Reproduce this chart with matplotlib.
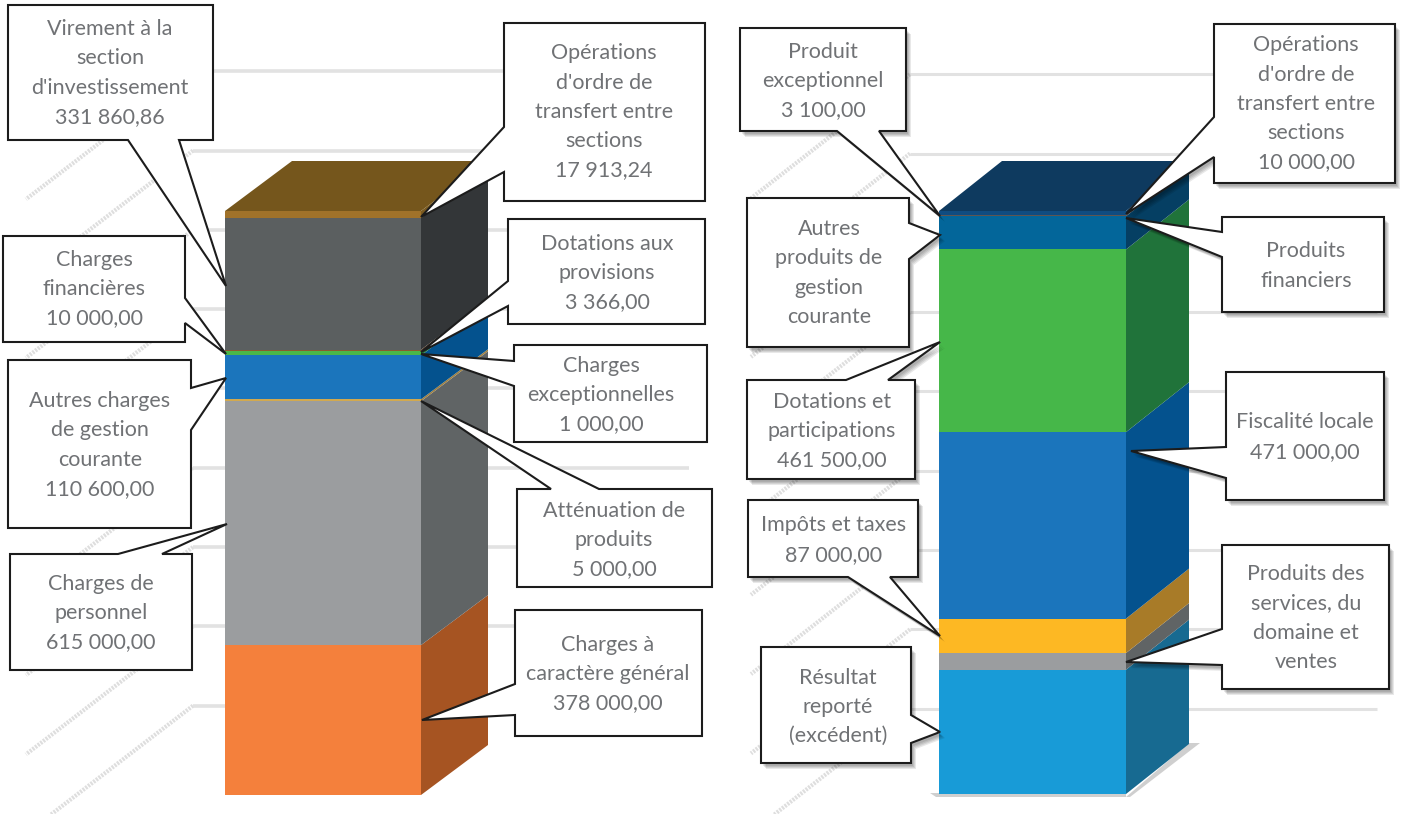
import matplotlib
matplotlib.use('Agg')
import matplotlib.pyplot as plt
from matplotlib.patches import Polygon

plt.rcParams['font.family'] = ['Lato', 'DejaVu Sans']

W, H = 1410, 814
TEXT_COLOR = '#707275'

# depenses, du bas vers le haut
dep_values = [378000.00, 615000.00, 5000.00, 110600.00, 10000.00, 1000.00, 3366.00, 331860.86, 17913.24]
dep_front = ['#F4803C', '#9B9D9F', '#D2A94F', '#1B75BC', '#4BB749', '#0B4F80', '#8A5A30', '#5B5F60', '#A0722A']
dep_side = ['#A65422', '#606465', '#A08040', '#04528E', '#20733A', '#0B3F66', '#6A4525', '#333638', '#7A5A20']
dep_top = '#75561C'

# recettes, du bas vers le haut (valeurs sans etiquette estimees)
rec_values = [314000.00, 42000.00, 87000.00, 471000.00, 461500.00, 84000.00, 100.00, 3100.00, 10000.00]
rec_front = ['#189BD7', '#9B9D9F', '#FDB823', '#1B75BC', '#46B749', '#03669A', '#8A5A30', '#5F5550', '#0F4C81']
rec_side = ['#176A91', '#606465', '#A87B28', '#04528E', '#20733A', '#053F63', '#6A4525', '#444040', '#0C3A5C']
rec_top = '#0E3A5F'

grid_values = [200000, 400000, 600000, 800000, 1000000, 1200000, 1400000, 1600000, 1800000]


def bar3d(ax_rect, values, front, side, top, dx, dy):
    x0, ytop, x1, ybot = ax_rect
    w, h = x1 - x0, ybot - ytop
    ax = fig.add_axes([x0 / W, 1 - ybot / H, (w + dx) / W, (h + dy) / H], zorder=2)
    total = sum(values)
    d = dx / w
    e = total * dy / h
    ax.set_xlim(0, 1 + d)
    ax.set_ylim(0, total + e)
    ax.axis('off')
    bottom = 0
    for val, c1, c2 in zip(values, front, side):
        ax.bar(0, val, width=1, bottom=bottom, align='edge', color=c1, linewidth=0)
        ax.fill([1, 1 + d, 1 + d, 1], [bottom, bottom + e, bottom + val + e, bottom + val], color=c2, linewidth=0)
        bottom += val
    ax.fill([0, 1, 1 + d, d], [total, total, total + e, total + e], color=top, linewidth=0)
    return ax


def walls(y0, scale, xa, xb, xc, drop, lw):
    for v in grid_values:
        y = y0 - v * scale
        bg.plot([xb, xa], [y, y + drop], color='#DEDEDE', lw=3, ls=(0, (0.5, 0.3)), solid_capstyle='butt')
        bg.plot([xb, xc], [y, y], color='#E2E2E2', lw=lw, solid_capstyle='butt')


def callout(box, wedge, side, lines, cx, cy, shadow=False):
    x0, y0, x1, y1 = box
    a, tip, b = wedge
    if side == 'left':
        pts = [(x0, y0), (x1, y0), (x1, y1), (x0, y1), (x0, b), tip, (x0, a)]
    elif side == 'right':
        pts = [(x0, y0), (x1, y0), (x1, a), tip, (x1, b), (x1, y1), (x0, y1)]
    elif side == 'top':
        pts = [(x0, y0), (a, y0), tip, (b, y0), (x1, y0), (x1, y1), (x0, y1)]
    else:
        pts = [(x0, y0), (x1, y0), (x1, y1), (b, y1), tip, (a, y1), (x0, y1)]
    if shadow:
        for off in [3, 4, 5, 6]:
            fg.add_patch(Polygon([(p[0] + off - 1, p[1] + off) for p in pts], closed=True, color='black', alpha=0.09, lw=0))
    fg.add_patch(Polygon(pts, closed=True, facecolor='white', edgecolor='#1c1c1c', lw=1.5, joinstyle='miter'))
    fg.text(cx, cy, '\n'.join(lines), ha='center', va='center', fontsize=15.5, color=TEXT_COLOR, linespacing=1.58)


fig = plt.figure(figsize=(W / 100, H / 100), dpi=100)

bg = fig.add_axes([0, 0, 1, 1], zorder=1)
bg.set_xlim(0, W)
bg.set_ylim(H, 0)
bg.axis('off')

fg = fig.add_axes([0, 0, 1, 1], zorder=3)
fg.set_xlim(0, W)
fg.set_ylim(H, 0)
fg.axis('off')
fg.patch.set_alpha(0)

scale = 584 / sum(dep_values)
walls(785, scale, 26, 193, 689, 128, 2.6)
walls(788, scale, 751, 910, 1377, 124, 2.2)

# ombre au sol de la barre de droite
bg.add_patch(Polygon([(930, 793), (1126, 793), (1126, 797), (936, 797)], closed=True, color='#BBBBBB', lw=0, alpha=0.7))
bg.add_patch(Polygon([(1126, 797), (1189, 743), (1200, 743), (1130, 797)], closed=True, color='#BBBBBB', lw=0, alpha=0.7))

bar3d((225, 211, 421, 795), dep_values, dep_front, dep_side, dep_top, 67, 50)
bar3d((939, 211, 1126, 794), rec_values, rec_front, rec_side, rec_top, 63, 50)

callout((8, 5, 213, 140), (128, (226, 286), 179), 'bottom',
        ['Virement à la', 'section', "d'investissement", '331 860,86'], 110, 73)
callout((3, 236, 185, 342), (298, (226, 354), 323), 'right',
        ['Charges', 'financières', '10 000,00'], 94, 289)
callout((8, 360, 191, 528), (388, (226, 378), 430), 'right',
        ['Autres charges', 'de gestion', 'courante', '110 600,00'], 100, 445)
callout((10, 554, 192, 670), (118, (227, 524), 162), 'top',
        ['Charges de', 'personnel', '615 000,00'], 101, 613)
callout((504, 23, 705, 201), (127, (421, 217), 172), 'left',
        ['Opérations', "d'ordre de", 'transfert entre', 'sections', '17 913,24'], 604, 112)
callout((508, 219, 705, 324), (281, (421, 352), 306), 'left',
        ['Dotations aux', 'provisions', '3 366,00'], 607, 273)
callout((514, 345, 707, 442), (361, (421, 354), 386), 'left',
        ['Charges', 'exceptionnelles', '1 000,00'], 601, 395)
callout((517, 489, 712, 587), (551, (421, 401), 599), 'top',
        ['Atténuation de', 'produits', '5 000,00'], 614, 540)
callout((515, 610, 702, 736), (684, (422, 720), 715), 'left',
        ['Charges à', 'caractère général', '378 000,00'], 608, 674)

callout((740, 28, 906, 131), (837, (940, 216), 879), 'bottom',
        ['Produit', 'exceptionnel', '3 100,00'], 823, 81, True)
callout((1214, 24, 1395, 183), (117, (1126, 214), 157), 'left',
        ['Opérations', "d'ordre de", 'transfert entre', 'sections', '10 000,00'], 1306, 104, True)
callout((1222, 217, 1384, 312), (232, (1126, 218), 257), 'left',
        ['Produits', 'financiers'], 1306, 266, True)
callout((747, 198, 909, 347), (223, (940, 235), 259), 'right',
        ['Autres', 'produits de', 'gestion', 'courante'], 829, 273, True)
callout((747, 380, 915, 479), (846, (940, 342), 888), 'top',
        ['Dotations et', 'participations', '461 500,00'], 832, 431, True)
callout((1226, 372, 1384, 500), (447, (1131, 451), 478), 'left',
        ['Fiscalité locale', '471 000,00'], 1305, 437, True)
callout((748, 500, 918, 577), (848, (940, 636), 890), 'bottom',
        ['Impôts et taxes', '87 000,00'], 834, 540, True)
callout((1222, 545, 1389, 689), (629, (1126, 662), 665), 'left',
        ['Produits des', 'services, du', 'domaine et', 'ventes'], 1306, 618, True)
callout((761, 647, 911, 763), (715, (940, 732), 743), 'right',
        ['Résultat', 'reporté', '(excédent)'], 838, 707, True)

fig.savefig('out.png', dpi=100)
